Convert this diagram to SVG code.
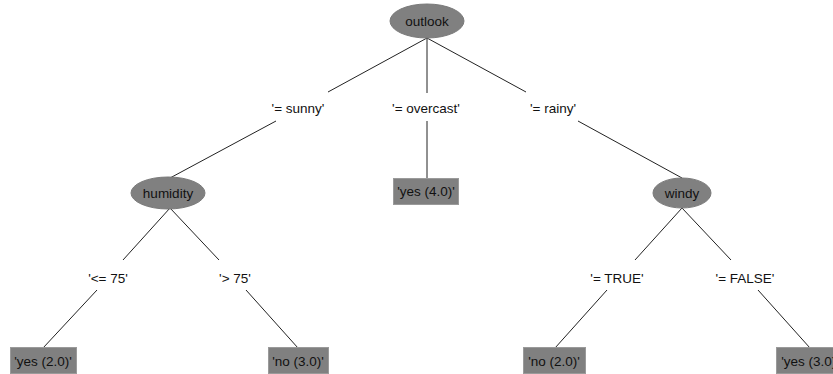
<svg xmlns="http://www.w3.org/2000/svg" width="833" height="374" viewBox="0 0 833 374">
  <style>
    text { font-family: "Liberation Sans", Arial, sans-serif; font-size: 13.5px; fill: #111; text-anchor: middle; }
    .split { fill: #808080; stroke: #7a7a7a; stroke-width: 1; }
    .leaf { fill: #808080; stroke: #9a9a9a; stroke-width: 1; }
    .edge { stroke: #222; stroke-width: 1; fill: none; }
  </style>
  <rect width="833" height="374" fill="#ffffff"/>

  <!-- connectors, broken around their labels -->
  <g id="connectors">
    <line class="edge" x1="427" y1="38" x2="328" y2="92"/>
    <line class="edge" x1="276" y1="121" x2="170" y2="178"/>
    <line class="edge" x1="427" y1="38" x2="427" y2="93"/>
    <line class="edge" x1="427" y1="121" x2="427" y2="178"/>
    <line class="edge" x1="427" y1="38" x2="526" y2="92"/>
    <line class="edge" x1="578" y1="121" x2="682" y2="178"/>

    <line class="edge" x1="170" y1="208" x2="123" y2="260"/>
    <line class="edge" x1="97" y1="290" x2="43" y2="348"/>
    <line class="edge" x1="170" y1="208" x2="219" y2="260"/>
    <line class="edge" x1="246" y1="290" x2="298" y2="348"/>

    <line class="edge" x1="682" y1="208" x2="635" y2="260"/>
    <line class="edge" x1="607" y1="290" x2="555" y2="348"/>
    <line class="edge" x1="682" y1="208" x2="731" y2="260"/>
    <line class="edge" x1="758" y1="290" x2="810" y2="348"/>

    <text x="298" y="113">'= sunny'</text>
    <text x="426" y="113">'= overcast'</text>
    <text x="553" y="113">'= rainy'</text>
    <text x="108" y="283">'&lt;= 75'</text>
    <text x="235" y="283">'&gt; 75'</text>
    <text x="617" y="283">'= TRUE'</text>
    <text x="745" y="283">'= FALSE'</text>
  </g>

  <g id="outlook">
    <ellipse class="split" cx="427" cy="21" rx="37" ry="17"/>
    <text x="427" y="26">outlook</text>
  </g>
  <g id="humidity">
    <ellipse class="split" cx="168" cy="193" rx="37" ry="16"/>
    <text x="168" y="198">humidity</text>
  </g>
  <g id="windy">
    <ellipse class="split" cx="682" cy="193" rx="29" ry="15"/>
    <text x="682" y="198">windy</text>
  </g>
  <g id="overcast-leaf">
    <rect class="leaf" x="393.5" y="178.5" width="65" height="26"/>
    <text x="426" y="196">'yes (4.0)'</text>
  </g>
  <g id="humidity-low-leaf">
    <rect class="leaf" x="10.5" y="347.5" width="66" height="26"/>
    <text x="43" y="366">'yes (2.0)'</text>
  </g>
  <g id="humidity-high-leaf">
    <rect class="leaf" x="268.5" y="347.5" width="60" height="26"/>
    <text x="298" y="366">'no (3.0)'</text>
  </g>
  <g id="windy-true-leaf">
    <rect class="leaf" x="523.5" y="347.5" width="62" height="26"/>
    <text x="554" y="366">'no (2.0)'</text>
  </g>
  <g id="windy-false-leaf">
    <rect class="leaf" x="776.5" y="347.5" width="66" height="26"/>
    <text x="810" y="366">'yes (3.0)'</text>
  </g>
</svg>
